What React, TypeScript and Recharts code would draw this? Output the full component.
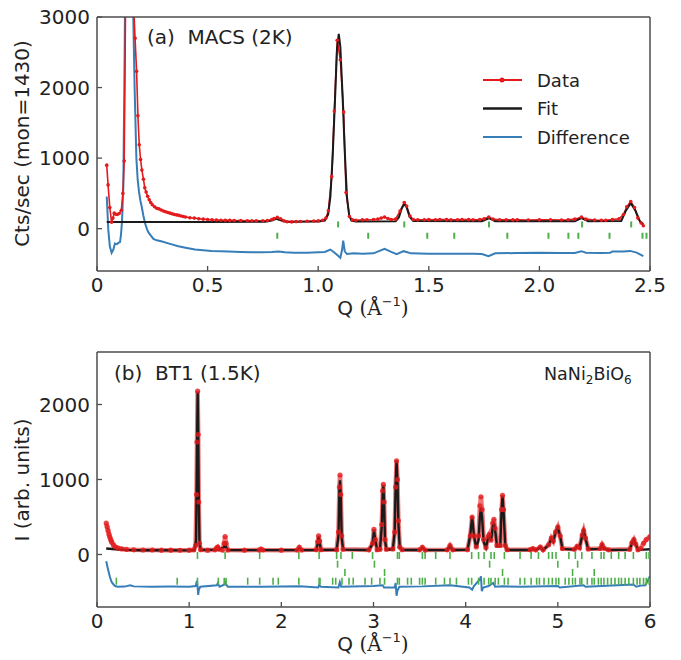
import React from 'react';
import { ComposedChart, Line, Scatter, XAxis, YAxis } from 'recharts';

// ---------- Panel (a) MACS (2K) ----------
const topData: [number, number][] = [
  [0.044, 900], [0.05, 620], [0.058, 300], [0.066, 90], [0.072, 150], [0.078, 220], [0.085, 205], [0.092, 200],
  [0.1, 215], [0.11, 260], [0.117, 500], [0.123, 960], [0.13, 3500], [0.14, 7000], [0.15, 7200], [0.158, 5200],
  [0.164, 3300], [0.172, 2700], [0.179, 2230], [0.185, 1600], [0.191, 1190], [0.197, 980], [0.203, 830], [0.21, 700],
  [0.216, 580], [0.222, 520], [0.229, 460], [0.236, 410], [0.243, 370], [0.25, 340], [0.26, 310], [0.27, 290],
  [0.28, 280], [0.29, 265], [0.3, 250], [0.31, 240], [0.32, 230], [0.33, 220], [0.34, 210], [0.35, 200],
  [0.36, 195], [0.37, 188], [0.38, 180], [0.39, 172], [0.4, 165], [0.42, 155], [0.44, 150], [0.46, 140],
  [0.48, 135], [0.5, 130], [0.52, 125], [0.54, 122], [0.56, 120], [0.58, 118], [0.6, 117], [0.62, 116],
  [0.65, 115], [0.68, 113], [0.7, 113], [0.72, 112], [0.75, 112], [0.77, 115], [0.79, 130], [0.8, 145],
  [0.815, 160], [0.83, 140], [0.845, 110], [0.86, 98], [0.88, 96], [0.9, 100], [0.92, 102], [0.95, 105],
  [0.98, 108], [1.0, 110], [1.02, 118], [1.035, 150], [1.046, 253], [1.061, 737], [1.073, 1666], [1.086, 2671],
  [1.1, 2394], [1.115, 1652], [1.126, 511], [1.141, 173], [1.155, 125], [1.17, 120], [1.2, 125], [1.22, 127],
  [1.25, 130], [1.27, 135], [1.285, 150], [1.3, 164], [1.315, 145], [1.33, 130], [1.35, 135], [1.37, 250],
  [1.389, 371], [1.4, 320], [1.415, 180], [1.43, 130], [1.45, 125], [1.48, 127], [1.5, 128], [1.53, 127],
  [1.55, 130], [1.58, 128], [1.6, 125], [1.63, 127], [1.65, 130], [1.68, 128], [1.7, 125], [1.73, 128],
  [1.75, 140], [1.771, 164], [1.79, 135], [1.82, 126], [1.85, 125], [1.88, 124], [1.9, 125], [1.95, 122],
  [2.0, 125], [2.05, 125], [2.1, 122], [2.13, 125], [2.16, 135], [2.19, 164], [2.21, 135], [2.25, 122],
  [2.28, 120], [2.3, 120], [2.33, 128], [2.36, 140], [2.38, 200], [2.395, 310], [2.413, 385], [2.43, 300],
  [2.445, 150], [2.46, 80], [2.47, 42],
];

const topFit: [number, number][] = [
  [0.044, 95], [0.2, 95], [0.5, 95], [0.76, 97], [0.79, 115], [0.81, 140], [0.83, 120], [0.855, 98],
  [1.0, 100], [1.03, 115], [1.045, 200], [1.055, 450], [1.065, 1000], [1.075, 1750], [1.085, 2550], [1.093, 2760],
  [1.1, 2580], [1.11, 1900], [1.12, 1100], [1.13, 450], [1.14, 190], [1.15, 115], [1.17, 102], [1.35, 105],
  [1.365, 160], [1.377, 280], [1.389, 352], [1.4, 300], [1.413, 170], [1.43, 108], [1.74, 105], [1.772, 148],
  [1.8, 105], [2.16, 105], [2.19, 150], [2.22, 105], [2.37, 110], [2.39, 250], [2.413, 361], [2.435, 250],
  [2.455, 100], [2.47, 66],
];

const topDiff: [number, number][] = [
  [0.044, 455], [0.048, 200], [0.051, -14], [0.058, -250], [0.066, -342], [0.074, -296], [0.081, -211], [0.09, -220],
  [0.096, -202], [0.104, -190], [0.108, -100], [0.113, 100], [0.119, 596], [0.125, 2500], [0.131, 5000], [0.14, 8000],
  [0.15, 7500], [0.161, 3500], [0.17, 2000], [0.178, 1000], [0.184, 690], [0.19, 520], [0.196, 400], [0.202, 314],
  [0.21, 180], [0.217, 80], [0.225, 0], [0.232, -50], [0.24, -84], [0.255, -146], [0.27, -165], [0.29, -178],
  [0.33, -215], [0.368, -249], [0.4, -270], [0.443, -296], [0.48, -305], [0.518, -315], [0.56, -320], [0.594, -324],
  [0.65, -330], [0.7, -333], [0.746, -333], [0.79, -330], [0.82, -324], [0.85, -335], [0.89, -343], [0.95, -340],
  [1.0, -335], [1.03, -330], [1.055, -296], [1.07, -330], [1.085, -370], [1.1, -413], [1.108, -300], [1.113, -169],
  [1.12, -320], [1.13, -360], [1.16, -350], [1.2, -357], [1.25, -350], [1.3, -286], [1.33, -330], [1.355, -360],
  [1.386, -319], [1.42, -350], [1.5, -357], [1.6, -355], [1.7, -357], [1.74, -360], [1.77, -390], [1.8, -350],
  [1.9, -345], [2.0, -340], [2.1, -345], [2.16, -345], [2.19, -319], [2.21, -340], [2.28, -345], [2.32, -340],
  [2.33, -325], [2.38, -325], [2.41, -315], [2.44, -340], [2.47, -390],
];

const topNuclearQ = [1.09, 1.389, 1.772, 2.193, 2.415];
const topNuclearLevel = 60;
const topMagneticQ = [0.815, 1.226, 1.493, 1.615, 1.855, 2.041, 2.131, 2.176, 2.317, 2.466, 2.484];
const topMagneticLevel = -100;

const topXTicks = [0, 0.5, 1, 1.5, 2, 2.5];
const topYTicks = [0, 1000, 2000, 3000];

// ---------- Panel (b) BT1 (1.5K) ----------
const botData: [number, number][] = [
  [0.1, 420], [0.11, 370], [0.12, 320], [0.13, 270], [0.14, 230], [0.15, 195], [0.16, 165], [0.18, 125],
  [0.2, 100], [0.23, 85], [0.27, 75], [0.32, 68], [0.4, 62], [0.5, 60], [0.6, 60], [0.7, 58], [0.8, 58],
  [0.9, 57], [1.0, 58], [1.05, 62], [1.07, 120], [1.08, 800], [1.085, 1500], [1.092, 2180], [1.098, 1600],
  [1.104, 700], [1.112, 150], [1.125, 65], [1.2, 58], [1.28, 62], [1.3, 90], [1.31, 100], [1.32, 75],
  [1.36, 60], [1.38, 150], [1.39, 240], [1.4, 150], [1.42, 60], [1.6, 58], [1.76, 60], [1.78, 72], [1.8, 60],
  [2.0, 58], [2.17, 60], [2.195, 95], [2.22, 60], [2.38, 65], [2.395, 170], [2.405, 250], [2.415, 180],
  [2.43, 65], [2.6, 65], [2.62, 300], [2.63, 900], [2.637, 1060], [2.645, 800], [2.655, 250], [2.67, 70],
  [2.95, 62], [2.99, 150], [3.005, 335], [3.02, 200], [3.04, 65], [3.07, 70], [3.09, 400], [3.1, 850],
  [3.107, 935], [3.115, 700], [3.125, 200], [3.14, 70], [3.21, 75], [3.23, 300], [3.24, 900], [3.25, 1250],
  [3.26, 1000], [3.27, 450], [3.285, 100], [3.31, 65], [3.5, 62], [3.53, 95], [3.56, 60], [3.8, 62],
  [3.83, 120], [3.86, 62], [4.02, 65], [4.05, 250], [4.07, 500], [4.09, 250], [4.115, 100], [4.14, 250],
  [4.155, 650], [4.166, 770], [4.178, 600], [4.195, 200], [4.22, 90], [4.245, 240], [4.257, 270], [4.275, 190],
  [4.295, 420], [4.307, 470], [4.32, 350], [4.34, 120], [4.375, 120], [4.39, 600], [4.4, 790], [4.41, 600],
  [4.43, 120], [4.45, 65], [4.7, 65], [4.73, 78], [4.76, 62], [4.81, 100], [4.84, 62], [4.9, 130],
  [4.93, 220], [4.95, 180], [4.975, 300], [5.0, 365], [5.025, 250], [5.05, 80], [5.18, 70], [5.21, 110],
  [5.235, 90], [5.265, 260], [5.28, 320], [5.3, 220], [5.33, 75], [5.46, 80], [5.48, 133], [5.5, 85],
  [5.55, 62], [5.78, 70], [5.805, 160], [5.825, 200], [5.845, 140], [5.87, 65], [5.9, 80], [5.93, 150],
  [5.96, 200], [6.0, 240],
];

const botFit: [number, number][] = [
  [0.1, 80], [0.2, 70], [0.3, 62], [0.5, 57], [1.0, 55], [1.06, 60], [1.075, 200], [1.085, 1400],
  [1.092, 2170], [1.098, 1650], [1.104, 750], [1.112, 150], [1.125, 60], [1.3, 65], [1.31, 75], [1.32, 60],
  [1.38, 100], [1.39, 155], [1.4, 100], [1.42, 58], [1.76, 58], [1.78, 65], [1.8, 58], [2.17, 58],
  [2.195, 85], [2.22, 58], [2.38, 60], [2.395, 150], [2.405, 240], [2.415, 160], [2.43, 60], [2.6, 62],
  [2.62, 250], [2.63, 850], [2.637, 990], [2.645, 780], [2.655, 230], [2.67, 65], [2.95, 60], [2.99, 140],
  [3.005, 330], [3.02, 190], [3.04, 60], [3.07, 65], [3.09, 380], [3.1, 830], [3.107, 925], [3.115, 690],
  [3.125, 190], [3.14, 65], [3.21, 70], [3.23, 300], [3.24, 920], [3.25, 1255], [3.26, 980], [3.27, 420],
  [3.285, 90], [3.31, 60], [3.5, 60], [3.53, 90], [3.56, 58], [3.8, 60], [3.83, 115], [3.86, 60],
  [4.02, 62], [4.05, 260], [4.07, 505], [4.09, 250], [4.115, 90], [4.14, 200], [4.155, 520], [4.166, 620],
  [4.178, 500], [4.195, 170], [4.22, 90], [4.245, 230], [4.257, 255], [4.275, 180], [4.295, 380], [4.307, 425],
  [4.32, 320], [4.34, 110], [4.375, 115], [4.39, 600], [4.4, 785], [4.41, 600], [4.43, 110], [4.45, 60],
  [4.7, 60], [4.73, 75], [4.76, 60], [4.81, 95], [4.84, 60], [4.9, 125], [4.93, 215], [4.95, 175],
  [4.975, 295], [5.0, 360], [5.025, 245], [5.05, 75], [5.18, 65], [5.21, 105], [5.235, 85], [5.265, 255],
  [5.28, 315], [5.3, 215], [5.33, 70], [5.46, 75], [5.48, 128], [5.5, 80], [5.55, 60], [5.78, 65],
  [5.805, 155], [5.825, 195], [5.845, 135], [5.87, 62], [5.93, 65], [6.0, 70],
];

const botDiff: [number, number][] = [
  [0.1, -90], [0.12, -200], [0.14, -300], [0.16, -370], [0.19, -415], [0.22, -430], [0.3, -428], [0.36, -410],
  [0.4, -425], [0.6, -430], [0.8, -428], [1.0, -430], [1.07, -420], [1.085, -350], [1.092, -440], [1.098, -540],
  [1.105, -470], [1.12, -430], [1.3, -410], [1.31, -385], [1.33, -430], [1.385, -400], [1.39, -350], [1.4, -400],
  [1.42, -430], [1.8, -430], [2.0, -428], [2.2, -425], [2.4, -440], [2.41, -410], [2.43, -430], [2.62, -440],
  [2.635, -370], [2.65, -430], [3.0, -420], [3.1, -410], [3.115, -440], [3.23, -440], [3.24, -380], [3.25, -550],
  [3.26, -480], [3.28, -430], [3.53, -425], [3.83, -410], [4.04, -440], [4.07, -470], [4.09, -420], [4.155, -330],
  [4.166, -290], [4.175, -490], [4.19, -440], [4.25, -420], [4.3, -380], [4.32, -430], [4.4, -425], [4.6, -430],
  [5.0, -420], [5.02, -440], [5.28, -410], [5.3, -430], [5.82, -400], [5.85, -430], [5.9, -415], [5.95, -410],
  [6.0, -290],
];

const botRow1Q = [1.09, 1.39, 1.765, 2.19, 2.41, 2.6, 2.647, 2.77, 2.99, 3.26, 3.28, 3.53, 3.56, 3.675, 3.83,
  4.065, 4.14, 4.2, 4.275, 4.31, 4.42, 4.59, 4.71, 4.79, 4.9, 4.94, 4.98, 5.12, 5.19, 5.26, 5.37, 5.47, 5.5,
  5.58, 5.66, 5.73, 5.82, 5.96, 5.99];
const botRow2Q = [2.61, 3.01, 4.26, 5.0, 5.215];
const botRow3Q = [2.69, 3.12, 4.4, 5.16, 5.395];
const botRow4Q = [0.21, 0.87, 1.09, 1.316, 1.38, 1.4, 1.635, 1.765, 1.91, 1.967, 2.19, 2.41, 2.42, 2.557, 2.59,
  2.658, 2.734, 2.78, 2.908, 2.98, 3.07, 3.12, 3.26, 3.28, 3.37, 3.41, 3.5, 3.53, 3.56, 3.675, 3.77, 3.83, 3.9,
  4.03, 4.065, 4.14, 4.2, 4.25, 4.275, 4.32, 4.355, 4.42, 4.46, 4.59, 4.64, 4.71, 4.77, 4.8, 4.85, 4.9, 4.94,
  4.98, 5.01, 5.08, 5.12, 5.16, 5.19, 5.24, 5.26, 5.32, 5.37, 5.395, 5.44, 5.47, 5.5, 5.54, 5.58, 5.62, 5.66,
  5.69, 5.73, 5.77, 5.82, 5.86, 5.89, 5.93, 5.96, 5.99];
const botRowLevels = [-13, -129, -240, -356];

const botXTicks = [0, 1, 2, 3, 4, 5, 6];
const botYTicks = [0, 1000, 2000];

// ---------- styling ----------
const RED = '#e41a1c';
const BLUE = '#377eb8';
const GREEN = '#4daf4a';
const BLACK = '#1a1a1a';
const AXIS = '#4d4d4d';
const TXT = '#222222';
const FONT = '"DejaVu Sans", sans-serif';

const toPts = (arr: [number, number][]) => arr.map(([x, y]) => ({ x, y }));
const toRow = (qs: number[], level: number) => qs.map((x) => ({ x, y: level }));

const bottomTick = (fmt: (v: number) => string) => (p: any) => (
  <g>
    <line x1={p.x} x2={p.x} y1={p.y} y2={p.y - 5} stroke={AXIS} strokeWidth={1.3} />
    <text x={p.x} y={p.y + 21} textAnchor="middle" fontSize={20} fontFamily={FONT} fill={TXT}>
      {fmt(p.payload.value)}
    </text>
  </g>
);
const topTick = (p: any) => (
  <line x1={p.x} x2={p.x} y1={p.y} y2={p.y + 5} stroke={AXIS} strokeWidth={1.3} />
);
const leftTick = (p: any) => (
  <g>
    <line x1={p.x} x2={p.x + 5} y1={p.y} y2={p.y} stroke={AXIS} strokeWidth={1.3} />
    <text x={p.x - 7} y={p.y + 7} textAnchor="end" fontSize={20} fontFamily={FONT} fill={TXT}>
      {p.payload.value}
    </text>
  </g>
);
const rightTick = (p: any) => (
  <line x1={p.x} x2={p.x - 5} y1={p.y} y2={p.y} stroke={AXIS} strokeWidth={1.3} />
);

const tickMark = (half: number, w: number) => (p: any) => (
  <line x1={p.cx} x2={p.cx} y1={p.cy - half} y2={p.cy + half} stroke={GREEN} strokeWidth={w} />
);

const axisLine = { stroke: AXIS, strokeWidth: 1.5 };

function TopPanel() {
  return (
    <ComposedChart width={681} height={330} margin={{ top: 16, right: 30, bottom: 0, left: 0 }}>
      <XAxis dataKey="x" type="number" domain={[0, 2.5]} ticks={topXTicks} interval={0} allowDataOverflow
        height={59} tickSize={0} tickMargin={0} tickLine={false} axisLine={axisLine}
        tick={bottomTick((v) => (v === 0 ? '0' : v.toFixed(1)))} />
      <XAxis xAxisId="top" orientation="top" dataKey="x" type="number" domain={[0, 2.5]} ticks={topXTicks}
        interval={0} height={1} tickSize={0} tickMargin={0} tickLine={false} axisLine={axisLine} tick={topTick} />
      <YAxis type="number" domain={[-600, 3000]} ticks={topYTicks} interval={0} allowDataOverflow width={97}
        tickSize={0} tickMargin={0} tickLine={false} axisLine={axisLine} tick={leftTick} />
      <YAxis yAxisId="right" orientation="right" type="number" domain={[-600, 3000]} ticks={topYTicks}
        interval={0} width={1} tickSize={0} tickMargin={0} tickLine={false} axisLine={axisLine} tick={rightTick} />
      <Scatter data={toRow(topNuclearQ, topNuclearLevel)} dataKey="y" shape={tickMark(3, 2)} isAnimationActive={false} />
      <Scatter data={toRow(topMagneticQ, topMagneticLevel)} dataKey="y" shape={tickMark(3, 2)} isAnimationActive={false} />
      <Line data={toPts(topDiff)} dataKey="y" type="linear" stroke={BLUE} strokeWidth={2} dot={false}
        activeDot={false} isAnimationActive={false} />
      <Line data={toPts(topData)} dataKey="y" type="linear" stroke={RED} strokeWidth={1.6}
        dot={{ r: 1.8, fill: RED, stroke: RED, strokeWidth: 0 }} activeDot={false} isAnimationActive={false} />
      <Line data={toPts(topFit)} dataKey="y" type="linear" stroke={BLACK} strokeWidth={2} dot={false}
        activeDot={false} isAnimationActive={false} />
    </ComposedChart>
  );
}

function BottomPanel() {
  return (
    <ComposedChart width={681} height={330} margin={{ top: 21, right: 30, bottom: 0, left: 0 }}>
      <XAxis dataKey="x" type="number" domain={[0, 6]} ticks={botXTicks} interval={0} allowDataOverflow
        height={53} tickSize={0} tickMargin={0} tickLine={false} axisLine={axisLine}
        tick={bottomTick((v) => String(v))} />
      <XAxis xAxisId="top" orientation="top" dataKey="x" type="number" domain={[0, 6]} ticks={botXTicks}
        interval={0} height={1} tickSize={0} tickMargin={0} tickLine={false} axisLine={axisLine} tick={topTick} />
      <YAxis type="number" domain={[-700, 2700]} ticks={botYTicks} interval={0} allowDataOverflow width={97}
        tickSize={0} tickMargin={0} tickLine={false} axisLine={axisLine} tick={leftTick} />
      <YAxis yAxisId="right" orientation="right" type="number" domain={[-700, 2700]} ticks={botYTicks}
        interval={0} width={1} tickSize={0} tickMargin={0} tickLine={false} axisLine={axisLine} tick={rightTick} />
      <Scatter data={toRow(botRow1Q, botRowLevels[0])} dataKey="y" shape={tickMark(3.5, 1.6)} isAnimationActive={false} />
      <Scatter data={toRow(botRow2Q, botRowLevels[1])} dataKey="y" shape={tickMark(3.5, 1.6)} isAnimationActive={false} />
      <Scatter data={toRow(botRow3Q, botRowLevels[2])} dataKey="y" shape={tickMark(3.5, 1.6)} isAnimationActive={false} />
      <Scatter data={toRow(botRow4Q, botRowLevels[3])} dataKey="y" shape={tickMark(3.5, 1.6)} isAnimationActive={false} />
      <Line data={toPts(botDiff)} dataKey="y" type="linear" stroke={BLUE} strokeWidth={2} dot={false}
        activeDot={false} isAnimationActive={false} />
      <Line data={toPts(botData)} dataKey="y" type="linear" stroke={RED} strokeWidth={4.5} strokeOpacity={0.6}
        dot={{ r: 2.6, fill: RED, fillOpacity: 0.8, stroke: 'none' }} activeDot={false} isAnimationActive={false} />
      <Line data={toPts(botFit)} dataKey="y" type="linear" stroke={BLACK} strokeWidth={2.4} dot={false}
        activeDot={false} isAnimationActive={false} />
    </ComposedChart>
  );
}

function Overlay() {
  const t = { fontFamily: FONT, fill: TXT } as const;
  return (
    <svg width={681} height={660} style={{ position: 'absolute', left: 0, top: 0, pointerEvents: 'none' }}>
      {/* axis labels */}
      <text x={29} y={143.5} transform="rotate(-90 29 143.5)" textAnchor="middle" fontSize={20} {...t}>
        Cts/sec (mon=1430)
      </text>
      <text x={29} y={480} transform="rotate(-90 29 480)" textAnchor="middle" fontSize={20} {...t}>
        I (arb. units)
      </text>
      {[315, 651].map((by) => (
        <text key={by} x={373} y={by} textAnchor="middle" fontSize={20} {...t}>
          <tspan>Q </tspan>
          <tspan fontFamily='"DejaVu Serif", serif'>(Å</tspan>
          <tspan fontSize={13} dy={-9}>−1</tspan>
          <tspan fontFamily='"DejaVu Serif", serif' dy={9}>)</tspan>
        </text>
      ))}
      {/* panel annotations */}
      <text x={147} y={44} fontSize={20} style={{ whiteSpace: 'pre' }} {...t}>(a)  MACS (2K)</text>
      <text x={114} y={380} fontSize={20} style={{ whiteSpace: 'pre' }} {...t}>(b)  BT1 (1.5K)</text>
      <text x={544} y={380} fontSize={17.5} {...t}>
        NaNi<tspan fontSize={12} dy={4}>2</tspan>
        <tspan dy={-4}>BiO</tspan>
        <tspan fontSize={12} dy={4}>6</tspan>
      </text>
      {/* legend */}
      <line x1={483} x2={522} y1={80} y2={80} stroke={RED} strokeWidth={2} />
      <circle cx={502} cy={80} r={2.5} fill={RED} />
      <text x={537} y={86.5} fontSize={18} {...t}>Data</text>
      <line x1={483} x2={522} y1={108.5} y2={108.5} stroke={BLACK} strokeWidth={2.5} />
      <text x={537} y={115} fontSize={18} {...t}>Fit</text>
      <line x1={483} x2={522} y1={137} y2={137} stroke={BLUE} strokeWidth={2.2} />
      <text x={537} y={143.5} fontSize={18} {...t}>Difference</text>
    </svg>
  );
}

export default function App() {
  return (
    <div style={{ position: 'absolute', left: 0, top: 0, width: 681, height: 660, background: '#fff' }}>
      <div style={{ position: 'absolute', left: 0, top: 0 }}>
        <TopPanel />
      </div>
      <div style={{ position: 'absolute', left: 0, top: 330 }}>
        <BottomPanel />
      </div>
      <Overlay />
    </div>
  );
}
